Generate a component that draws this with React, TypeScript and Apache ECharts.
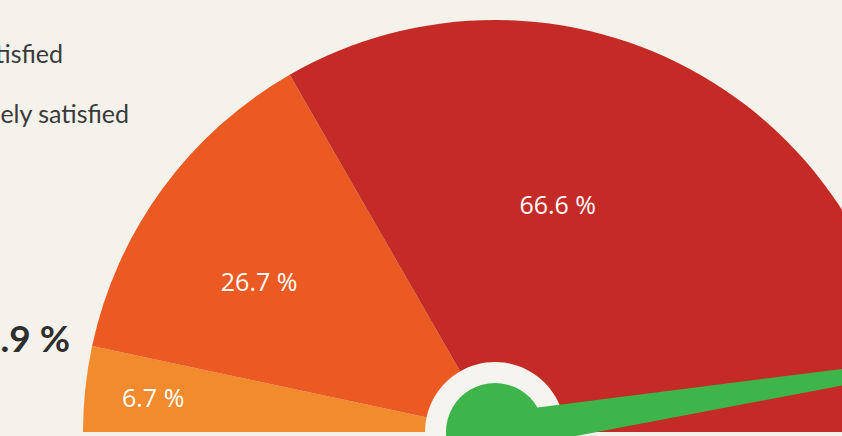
import { useEffect, useRef } from 'react';
import * as echarts from 'echarts';

const categories = ['Dissatisfied', 'Satisfied', 'Completely satisfied'];
const shares = [6.7, 26.7, 66.6];
const needleValue = [95];
const legendTexts = ['tisfied', 'ely satisfied'];
const totalText = '.9 %';

export default function App() {
  const ref = useRef<HTMLDivElement>(null);
  useEffect(() => {
    const chart = echarts.init(ref.current!, null, { renderer: 'svg' });
    const center = [495, 432];
    const colors = ['#f28a2e', '#ec5a23', '#c42a26'];
    const green = '#3db54a';
    const labelShift = [
      [-134, -13],
      [-67, -28],
      [-42, -47],
    ];
    const legendPos = [
      [63, 53],
      [129, 113],
    ];
    chart.setOption({
      animation: false,
      backgroundColor: '#f4f2ea',
      graphic: [
        ...legendTexts.map((t, i) => ({
          type: 'text',
          x: legendPos[i][0],
          y: legendPos[i][1],
          z: 10,
          style: {
            text: t,
            align: 'right',
            verticalAlign: 'middle',
            fontSize: 25,
            fontFamily: 'Lato',
            fill: '#3a3a3a',
          },
        })),
        {
          type: 'text',
          x: 70,
          y: 337,
          z: 10,
          style: {
            text: totalText,
            align: 'right',
            verticalAlign: 'middle',
            fontSize: 37,
            fontWeight: 'bold',
            fontFamily: 'Lato',
            fill: '#2e2e2e',
          },
        },
      ],
      series: [
        {
          type: 'pie',
          z: 1,
          silent: true,
          center,
          radius: [0, 412],
          startAngle: 180,
          endAngle: 0,
          clockwise: true,
          data: categories.map((n, i) => ({
            name: n,
            value: shares[i],
            itemStyle: { color: colors[i] },
          })),
          itemStyle: { borderWidth: 0 },
          label: {
            show: true,
            position: 'inside',
            formatter: '{c} %',
            color: '#ffffff',
            fontSize: 25,
            fontFamily: 'Open Sans',
            fontWeight: 400,
          },
          labelLine: { show: false },
          labelLayout: (p: any) => ({
            dx: labelShift[p.dataIndex][0],
            dy: labelShift[p.dataIndex][1],
          }),
        },
        {
          type: 'pie',
          z: 2,
          silent: true,
          center,
          radius: [0, 70],
          data: [{ name: 'hub', value: 1, itemStyle: { color: '#f5f4ee' } }],
          label: { show: false },
          labelLine: { show: false },
        },
        {
          type: 'gauge',
          z: 3,
          silent: true,
          center,
          radius: 412,
          startAngle: 180,
          endAngle: 0,
          min: 0,
          max: 100,
          axisLine: { show: false },
          splitLine: { show: false },
          axisTick: { show: false },
          axisLabel: { show: false },
          progress: { show: false },
          pointer: { length: 620, width: 19, itemStyle: { color: green } },
          anchor: {
            show: true,
            showAbove: true,
            size: 98,
            itemStyle: { color: green },
          },
          title: { show: false },
          detail: { show: false },
          data: [{ value: needleValue[0] }],
        },
      ],
    });
    return () => chart.dispose();
  }, []);
  return (
    <div
      ref={ref}
      style={{ position: 'absolute', left: 0, top: 0, width: 842, height: 436 }}
    />
  );
}
